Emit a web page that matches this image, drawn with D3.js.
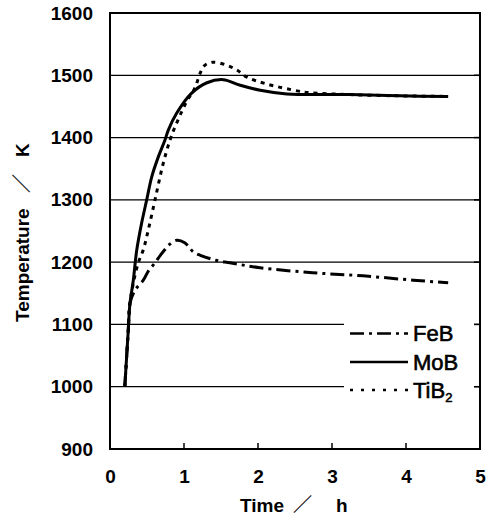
<!DOCTYPE html>
<html>
<head>
<meta charset="utf-8">
<script src="https://cdn.jsdelivr.net/npm/d3@7"></script>
<style>
  html, body { margin: 0; padding: 0; background: #fff; }
  svg { display: block; }
  .tick text { font-family: "Liberation Sans", Arial, sans-serif; font-weight: bold; font-size: 19px; fill: #000; }
</style>
</head>
<body>
<svg id="chart" width="488" height="517"></svg>
<script>
// ---- data ----
const xTicks = [0, 1, 2, 3, 4, 5];
const yTicks = [900, 1000, 1100, 1200, 1300, 1400, 1500, 1600];
const seriesNames = ["FeB", "MoB", "TiB2"];

const timeFeB = [0.20, 0.247, 0.27, 0.338, 0.45, 0.52, 0.61, 0.68, 0.74, 0.80, 0.90, 1.01, 1.13, 1.22, 1.43, 1.62, 2.03, 2.74, 3.42, 4.10, 4.57];
const tempFeB = [1000, 1091, 1134, 1155, 1171, 1186, 1199, 1211, 1220, 1228, 1235, 1231, 1216, 1211, 1203, 1199, 1191, 1183, 1178, 1171, 1167];

const timeMoB = [0.20, 0.247, 0.27, 0.315, 0.361, 0.428, 0.496, 0.564, 0.653, 0.743, 0.788, 0.90, 1.10, 1.31, 1.53, 1.76, 2.03, 2.39, 3.24, 3.92, 4.57];
const tempMoB = [1000, 1091, 1134, 1171, 1219, 1263, 1300, 1337, 1369, 1396, 1412, 1439, 1471, 1488, 1493, 1484, 1476, 1470, 1469, 1467, 1466];

const timeTiB2 = [0.20, 0.247, 0.27, 0.315, 0.382, 0.45, 0.518, 0.608, 0.72, 0.811, 0.878, 1.036, 1.149, 1.22, 1.28, 1.39, 1.58, 1.72, 1.85, 2.12, 2.53, 2.70, 3.24, 3.92, 4.57];
const tempTiB2 = [1000, 1091, 1134, 1166, 1199, 1220, 1252, 1300, 1359, 1396, 1417, 1458, 1480, 1504, 1516, 1521, 1516, 1508, 1497, 1486, 1475, 1472, 1469, 1467, 1466];

// ---- layout ----
const svg = d3.select("#chart");
const L = 110, R = 480, T = 13, B = 449;
const x = d3.scaleLinear().domain([0, 5]).range([L, R]);
const y = d3.scaleLinear().domain([900, 1600]).range([B, T]);

// grid lines
svg.append("g").selectAll("line").data(yTicks.slice(1, -1)).join("line")
  .attr("x1", L).attr("x2", R)
  .attr("y1", d => y(d)).attr("y2", d => y(d))
  .attr("stroke", "#000").attr("stroke-width", 1.3);

// curves
const mk = (ts, vs) => ts.map((t, i) => [t, vs[i]]);
const line = d3.line().x(d => x(d[0])).y(d => y(d[1])).curve(d3.curveCatmullRom.alpha(0.5));
const styles = {
  FeB: { dash: "14,5,3,5", w: 3 },
  MoB: { dash: null, w: 3 },
  TiB2: { dash: "4,5", w: 3 }
};
const data = {
  FeB: mk(timeFeB, tempFeB),
  MoB: mk(timeMoB, tempMoB),
  TiB2: mk(timeTiB2, tempTiB2)
};
["TiB2", "FeB", "MoB"].forEach(n => {
  svg.append("path").datum(data[n])
    .attr("d", line)
    .attr("fill", "none")
    .attr("stroke", "#000")
    .attr("stroke-width", styles[n].w)
    .attr("stroke-dasharray", styles[n].dash);
});

// legend box (white, covers grid)
const lg = svg.append("g");
lg.append("rect").attr("x", 344).attr("y", 314).attr("width", 130).attr("height", 92).attr("fill", "#fff");
const legY = [333.5, 362, 390];
seriesNames.forEach((n, i) => {
  lg.append("line").attr("x1", 350).attr("x2", 408)
    .attr("y1", legY[i]).attr("y2", legY[i])
    .attr("stroke", "#000").attr("stroke-width", 2.5)
    .attr("stroke-dasharray", n === "FeB" ? "14,5,3,5" : (n === "TiB2" ? "3,8" : null));
  const t = lg.append("text").attr("x", 413).attr("y", legY[i] + 7.5)
    .attr("font-family", "Liberation Sans, Arial, sans-serif")
    .attr("font-size", 22).attr("fill", "#000")
    .attr("stroke", "#000").attr("stroke-width", 0.6);
  if (n === "TiB2") {
    t.append("tspan").text("TiB");
    t.append("tspan").attr("font-size", 13).attr("dy", 4).text("2");
  } else {
    t.text(n);
  }
});

// axes (labels)
svg.append("g").attr("transform", `translate(${L},0)`)
  .call(d3.axisLeft(y).tickValues(yTicks).tickSize(0).tickPadding(17).tickFormat(d3.format("d")))
  .call(g => g.select(".domain").remove());
svg.append("g").attr("transform", `translate(0,${B})`)
  .call(d3.axisBottom(x).tickValues(xTicks).tickSize(0).tickPadding(20.5).tickFormat(d3.format("d")))
  .call(g => g.select(".domain").remove());

// inward ticks: bottom and right
svg.append("g").selectAll("line").data(xTicks.slice(1, -1)).join("line")
  .attr("x1", d => x(d)).attr("x2", d => x(d))
  .attr("y1", B).attr("y2", B - 6)
  .attr("stroke", "#000").attr("stroke-width", 1.5);
svg.append("g").selectAll("line").data(yTicks.slice(1, -1)).join("line")
  .attr("x1", R).attr("x2", R - 6)
  .attr("y1", d => y(d)).attr("y2", d => y(d))
  .attr("stroke", "#000").attr("stroke-width", 1.5);

// frame
svg.append("rect").attr("x", L).attr("y", T).attr("width", R - L).attr("height", B - T)
  .attr("fill", "none").attr("stroke", "#000").attr("stroke-width", 2);

// axis titles
const xt = svg.append("text").attr("y", 512)
  .attr("font-family", "Liberation Sans, Arial, sans-serif").attr("font-weight", "bold")
  .attr("font-size", 19).attr("fill", "#000");
xt.append("tspan").attr("x", 240).text("Time");
xt.append("tspan").attr("x", 293).attr("font-family", "Noto Sans CJK JP").attr("font-weight", "bold").text("／");
xt.append("tspan").attr("x", 336).text("h");

const yt = svg.append("text").attr("transform", "translate(29,322) rotate(-90)")
  .attr("font-family", "Liberation Sans, Arial, sans-serif").attr("font-weight", "bold")
  .attr("font-size", 19).attr("fill", "#000");
yt.append("tspan").attr("x", 0).text("Temperature");
yt.append("tspan").attr("x", 129).attr("font-family", "Noto Sans CJK JP").attr("font-weight", "bold").text("／");
yt.append("tspan").attr("x", 165).text("K");
</script>
</body>
</html>
